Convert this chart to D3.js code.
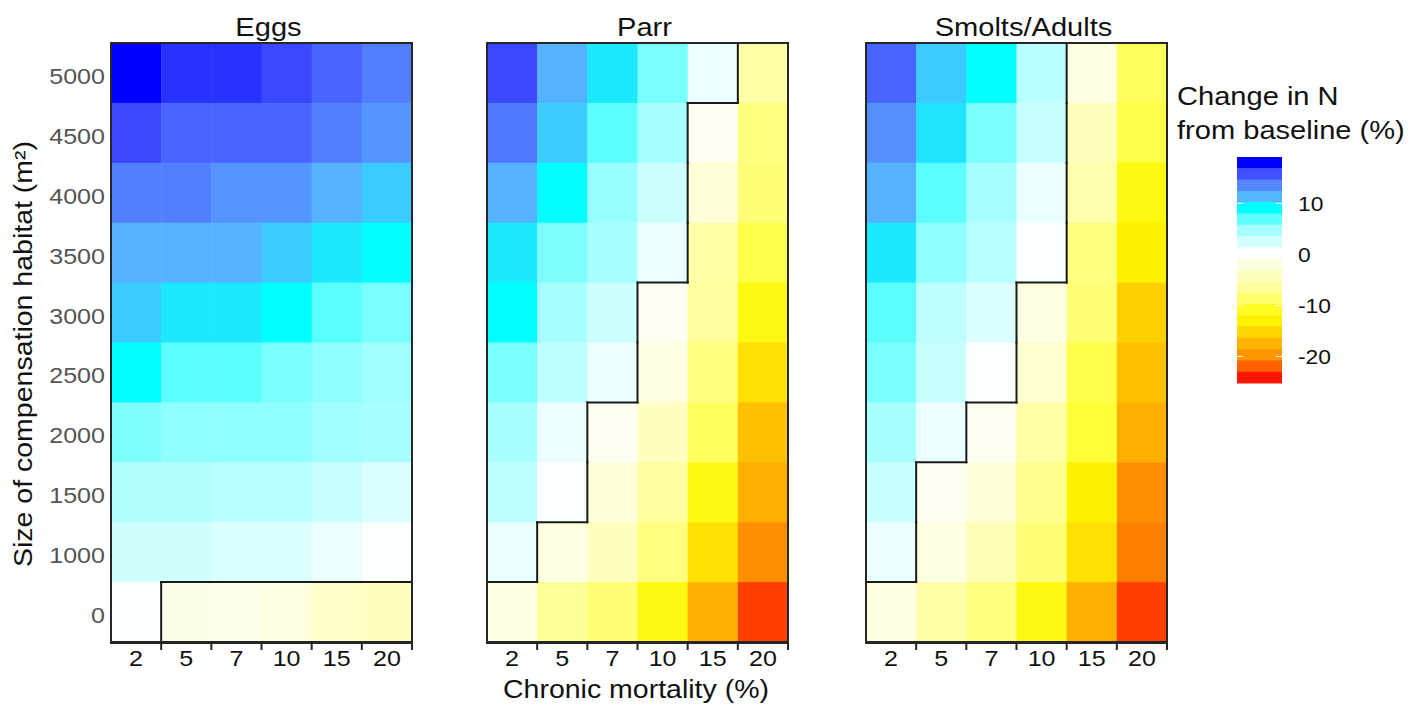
<!DOCTYPE html>
<html>
<head>
<meta charset="utf-8">
<script src="https://cdn.jsdelivr.net/npm/d3@7"></script>
<style>
  body { margin: 0; background: #fff; }
  text { font-family: "Liberation Sans", Arial, sans-serif; }
</style>
</head>
<body>
<script>
// chronic mortality (%) on x, compensation habitat (m2) on y (top row first)
const mortality = ["2", "5", "7", "10", "15", "20"];
const habitat = ["5000", "4500", "4000", "3500", "3000", "2500", "2000", "1500", "1000", "0"];

// change in N from baseline (%), one row per habitat size
const eggs = [
    [18.8, 16.6, 16.6, 16.0, 14.9, 13.9],
    [16.0, 14.9, 14.9, 14.9, 13.9, 12.9],
    [13.9, 13.9, 12.9, 12.9, 11.5, 10.7],
    [11.5, 11.5, 11.5, 10.7, 9.8, 9.1],
    [10.7, 9.8, 9.8, 9.1, 7.0, 6.1],
    [9.1, 7.0, 7.0, 6.1, 5.4, 4.85],
    [6.0, 5.4, 5.4, 5.4, 4.85, 4.6],
    [4.2, 4.2, 3.8, 3.8, 3.1, 2.35],
    [2.7, 2.7, 2.1, 2.1, 1.2, 0.1],
    [0.0, -1.3, -1.1, -1.9, -3.6, -4.2]
];
const parr = [
    [16.0, 11.5, 9.8, 6.1, 1.2, -5.85],
    [14.2, 10.7, 7.0, 4.6, -0.75, -7.9],
    [11.5, 9.1, 5.05, 2.9, -2.5, -8.25],
    [9.8, 6.0, 4.6, 1.2, -5.85, -9.7],
    [9.1, 4.6, 2.9, -0.75, -6.4, -12.0],
    [6.1, 3.5, 1.2, -1.9, -7.9, -14.4],
    [4.6, 1.2, -0.75, -4.2, -9.15, -16.7],
    [3.5, 0.1, -2.5, -6.4, -12.0, -17.85],
    [1.2, -1.9, -4.2, -7.9, -14.4, -19.9],
    [-1.9, -6.75, -8.25, -12.0, -17.85, -22.85]
];
const smolts = [
    [14.9, 10.7, 9.1, 3.8, -1.9, -9.15],
    [13.1, 10.0, 6.1, 3.1, -4.2, -9.7],
    [11.5, 7.0, 4.6, 1.2, -5.3, -12.0],
    [9.8, 5.4, 3.8, 0.1, -7.9, -13.0],
    [7.0, 3.5, 2.1, -1.9, -8.25, -15.55],
    [6.1, 3.1, 0.1, -3.05, -9.7, -16.7],
    [4.6, 1.2, -0.75, -5.85, -10.25, -17.85],
    [3.1, -0.75, -2.5, -7.1, -13.0, -19.9],
    [1.2, -1.9, -4.75, -8.25, -14.4, -20.6],
    [-1.9, -5.85, -7.9, -12.0, -17.85, -22.85]
];
const panelTitles = ["Eggs", "Parr", "Smolts/Adults"];

// colour bar: 20 bands from colorMax (top) to colorMin (bottom)
const legendColors = ["#0000ff", "#4050ff", "#5588ff", "#55b5ff", "#00ffff",
    "#60ffff", "#a5ffff", "#d5ffff", "#fbffff", "#ffffe0",
    "#ffffc0", "#ffffa0", "#ffff70", "#ffff25", "#fff200",
    "#ffd500", "#ffb500", "#ff9500", "#ff6000", "#ff1500"];
const legendTicks = [10, 0, -10, -20];
const colorMax = 19.1, colorMin = -25.2;

const width = 1418, height = 705;
const panelLeft = [111, 487, 866];
const panelWidth = 301;
const plotTop = 43, plotBottom = 642;
const fontStretch = 1.14; // the original lettering is a bit wider than Arial

// widen glyphs along the text direction
function stretch(sel) {
    sel.each(function () {
        const w = this.getComputedTextLength();
        d3.select(this)
            .attr("textLength", w * fontStretch)
            .attr("lengthAdjust", "spacingAndGlyphs");
    });
}

const bandStep = (colorMax - colorMin) / legendColors.length;
const bandCenters = legendColors.map((c, i) => colorMax - (i + 0.5) * bandStep);
const color = d3.scaleLinear()
    .domain(bandCenters)
    .range(legendColors)
    .clamp(true);

const svg = d3.select("body").append("svg")
    .attr("width", width)
    .attr("height", height);

const y = d3.scaleBand().domain(habitat).range([plotTop, plotBottom]);

[eggs, parr, smolts].forEach((values, p) => {
    const x = d3.scaleBand().domain(mortality)
        .range([panelLeft[p], panelLeft[p] + panelWidth]);
    const g = svg.append("g");

    const cells = values.flatMap((row, r) => row.map((v, c) => ({ r, c, v })));
    g.selectAll("rect.cell")
        .data(cells)
        .join("rect")
        .attr("class", "cell")
        .attr("x", d => x(mortality[d.c]))
        .attr("y", d => y(habitat[d.r]))
        .attr("width", x.bandwidth() + 0.5)
        .attr("height", y.bandwidth() + 0.5)
        .attr("fill", d => color(d.v));

    // zero contour: edges between negative and non-negative cells
    const segs = [];
    values.forEach((row, r) => row.forEach((v, c) => {
        const neg = v < 0;
        if (c + 1 < row.length && (row[c + 1] < 0) !== neg) {
            const xx = x(mortality[c]) + x.bandwidth();
            segs.push([xx, y(habitat[r]), xx, y(habitat[r]) + y.bandwidth()]);
        }
        if (r + 1 < values.length && (values[r + 1][c] < 0) !== neg) {
            const yy = y(habitat[r]) + y.bandwidth();
            segs.push([x(mortality[c]), yy, x(mortality[c]) + x.bandwidth(), yy]);
        }
    }));
    g.selectAll("line.contour")
        .data(segs)
        .join("line")
        .attr("class", "contour")
        .attr("x1", d => d[0]).attr("y1", d => d[1])
        .attr("x2", d => d[2]).attr("y2", d => d[3])
        .attr("stroke", "#1a1a1a")
        .attr("stroke-width", 2)
        .attr("stroke-linecap", "square");

    // frame
    g.append("rect")
        .attr("x", panelLeft[p])
        .attr("y", plotTop)
        .attr("width", panelWidth)
        .attr("height", plotBottom - plotTop)
        .attr("fill", "none")
        .attr("stroke", "#262626")
        .attr("stroke-width", 2);

    g.append("line")
        .attr("x1", panelLeft[p] - 1).attr("x2", panelLeft[p] + panelWidth + 1)
        .attr("y1", plotBottom + 0.5).attr("y2", plotBottom + 0.5)
        .attr("stroke", "#262626")
        .attr("stroke-width", 3);

    // ticks sit on the column boundaries
    g.selectAll("line.tick")
        .data(mortality)
        .join("line")
        .attr("class", "tick")
        .attr("x1", d => x(d) + x.bandwidth())
        .attr("x2", d => x(d) + x.bandwidth())
        .attr("y1", plotBottom)
        .attr("y2", plotBottom + 8)
        .attr("stroke", "#262626")
        .attr("stroke-width", 2);

    // tick labels
    const xAxis = g.append("g")
        .attr("transform", `translate(0,${plotBottom})`)
        .call(d3.axisBottom(x).tickSize(0).tickPadding(8));
    xAxis.select(".domain").remove();
    xAxis.selectAll("text")
        .style("font-family", "'Liberation Sans', Arial, sans-serif")
        .style("font-size", "22px")
        .attr("fill", "#111")
        .call(stretch);

    // panel title
    g.append("text")
        .attr("x", panelLeft[p] + panelWidth / 2 + 7)
        .attr("y", 36)
        .attr("text-anchor", "middle")
        .style("font-size", "25.5px")
        .attr("fill", "#111")
        .text(panelTitles[p])
        .call(stretch);

    if (p === 0) {
        const yAxis = g.append("g")
            .attr("transform", `translate(${panelLeft[0]},0)`)
            .call(d3.axisLeft(y).tickSize(0).tickPadding(6));
        yAxis.select(".domain").remove();
        yAxis.selectAll("text")
            .attr("dy", "0.5em")
            .style("font-family", "'Liberation Sans', Arial, sans-serif")
            .style("font-size", "22px")
            .attr("fill", "#555")
            .call(stretch);
    }
});

// axis titles
svg.append("text")
    .attr("transform", "translate(32,354) rotate(-90)")
    .attr("text-anchor", "middle")
    .style("font-size", "25px")
    .attr("fill", "#111")
    .text("Size of compensation habitat (m²)")
    .call(stretch);

svg.append("text")
    .attr("x", 636)
    .attr("y", 698)
    .attr("text-anchor", "middle")
    .style("font-size", "25px")
    .attr("fill", "#111")
    .text("Chronic mortality (%)")
    .call(stretch);

// colour bar
const lx = 1237, lw = 45;
const ly = d3.scaleLinear().domain([colorMax, colorMin]).range([157, 383]);
const legend = svg.append("g");

legend.append("text")
    .attr("x", 1177).attr("y", 105)
    .style("font-size", "25.5px")
    .attr("fill", "#111")
    .text("Change in N")
    .call(stretch);
legend.append("text")
    .attr("x", 1177).attr("y", 139)
    .style("font-size", "25.5px")
    .attr("fill", "#111")
    .text("from baseline (%)")
    .call(stretch);

legend.selectAll("rect")
    .data(legendColors)
    .join("rect")
    .attr("x", lx)
    .attr("y", (d, i) => ly(colorMax - i * bandStep))
    .attr("width", lw)
    .attr("height", ly(colorMax - bandStep) - ly(colorMax) + 0.5)
    .attr("fill", d => d);

legendTicks.forEach(t => {
    [[lx, lx + 6], [lx + lw - 6, lx + lw]].forEach(([a, b]) => {
        legend.append("line")
            .attr("x1", a).attr("x2", b)
            .attr("y1", ly(t)).attr("y2", ly(t))
            .attr("stroke", "#fff")
            .attr("stroke-width", 1);
    });
});

legend.selectAll("text.tl")
    .data(legendTicks)
    .join("text")
    .attr("class", "tl")
    .attr("x", 1298)
    .attr("y", d => ly(d) + 1)
    .attr("dy", "0.35em")
    .style("font-size", "20px")
    .attr("fill", "#111")
    .text(d => d)
    .call(stretch);
</script>
</body>
</html>
